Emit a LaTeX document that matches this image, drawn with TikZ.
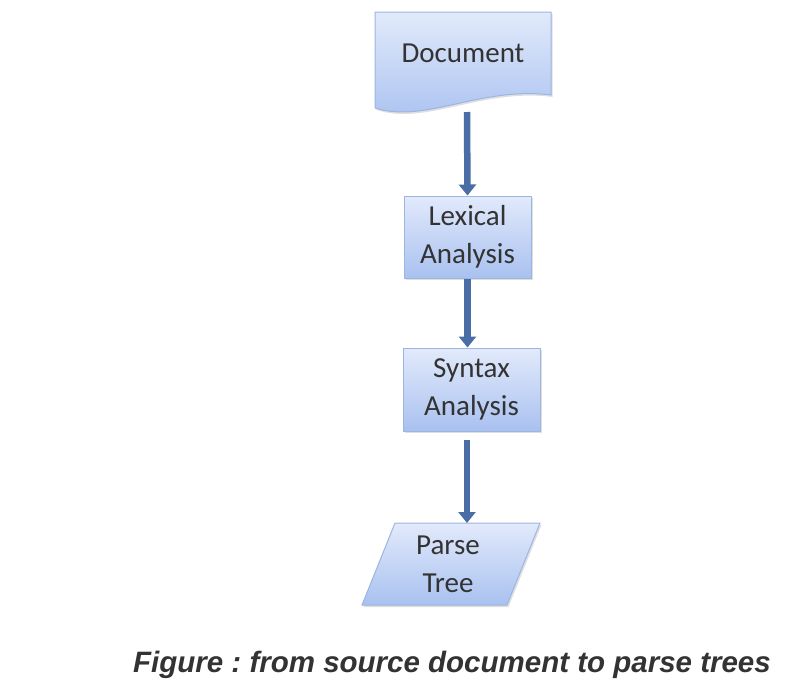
\documentclass[tikz,border=0pt]{standalone}
\usepackage{fontspec}
\setmainfont{Carlito}
\newfontfamily\capfont{Liberation Sans}
\usetikzlibrary{arrows.meta,shadows}
\definecolor{boxtop}{HTML}{E2EAFB}
\definecolor{boxbot}{HTML}{A9C1F0}
\definecolor{boxline}{HTML}{9DB5E2}
\definecolor{arrowc}{HTML}{4A6DA6}
\definecolor{captc}{HTML}{333333}
\tikzset{
  boxshape/.style={draw=boxline, line width=1pt, top color=boxtop, bottom color=boxbot,
    drop shadow={shadow xshift=1.5pt, shadow yshift=-2pt, opacity=0.25}},
  label/.style={font=\fontsize{29}{38}\selectfont, text=black!80, align=center},
  flowarrow/.style={draw=arrowc, line width=6.5pt, -{Triangle[width=17pt,length=11pt]}},
}
\frenchspacing
\begin{document}
\begin{tikzpicture}[x=1pt,y=-1pt]
\useasboundingbox (0,0) rectangle (807,686);
% Document shape
\path[boxshape] (375,12) -- (551,12) -- (551,95)
   .. controls (480,86) and (425,124) .. (375,108) -- cycle;
\node[label] (doc) at (463,53) {Document};
\coordinate (docbot) at (467,112);
% Lexical
\node[boxshape, label, minimum width=127pt, minimum height=82pt, inner sep=0pt] (lex) at (467.5,237) {Lexical\\Analysis};
% Syntax
\node[boxshape, label, minimum width=137pt, minimum height=83pt, inner sep=0pt] (syn) at (471.5,389.5) {Syntax\\Analysis};
% Parse tree
\path[boxshape] (395,523) -- (540,523) -- (507,605) -- (362,605) -- cycle;
\node[label] (parse) at (448,564) {Parse\\Tree};
\coordinate (parsetop) at (467,523);
\coordinate (synbot) at (467,440);
% arrows
\draw[flowarrow] (docbot) -- (lex.north);
\draw[flowarrow] (lex.south) -- (syn.north -| lex.south);
\draw[flowarrow] (synbot) -- (parsetop);
% caption
\node[font=\capfont\bfseries\itshape\fontsize{29.5}{32}\selectfont, text=captc, anchor=base] (cap) at (452,672) {Figure : from source document to parse trees};
\end{tikzpicture}
\end{document}
